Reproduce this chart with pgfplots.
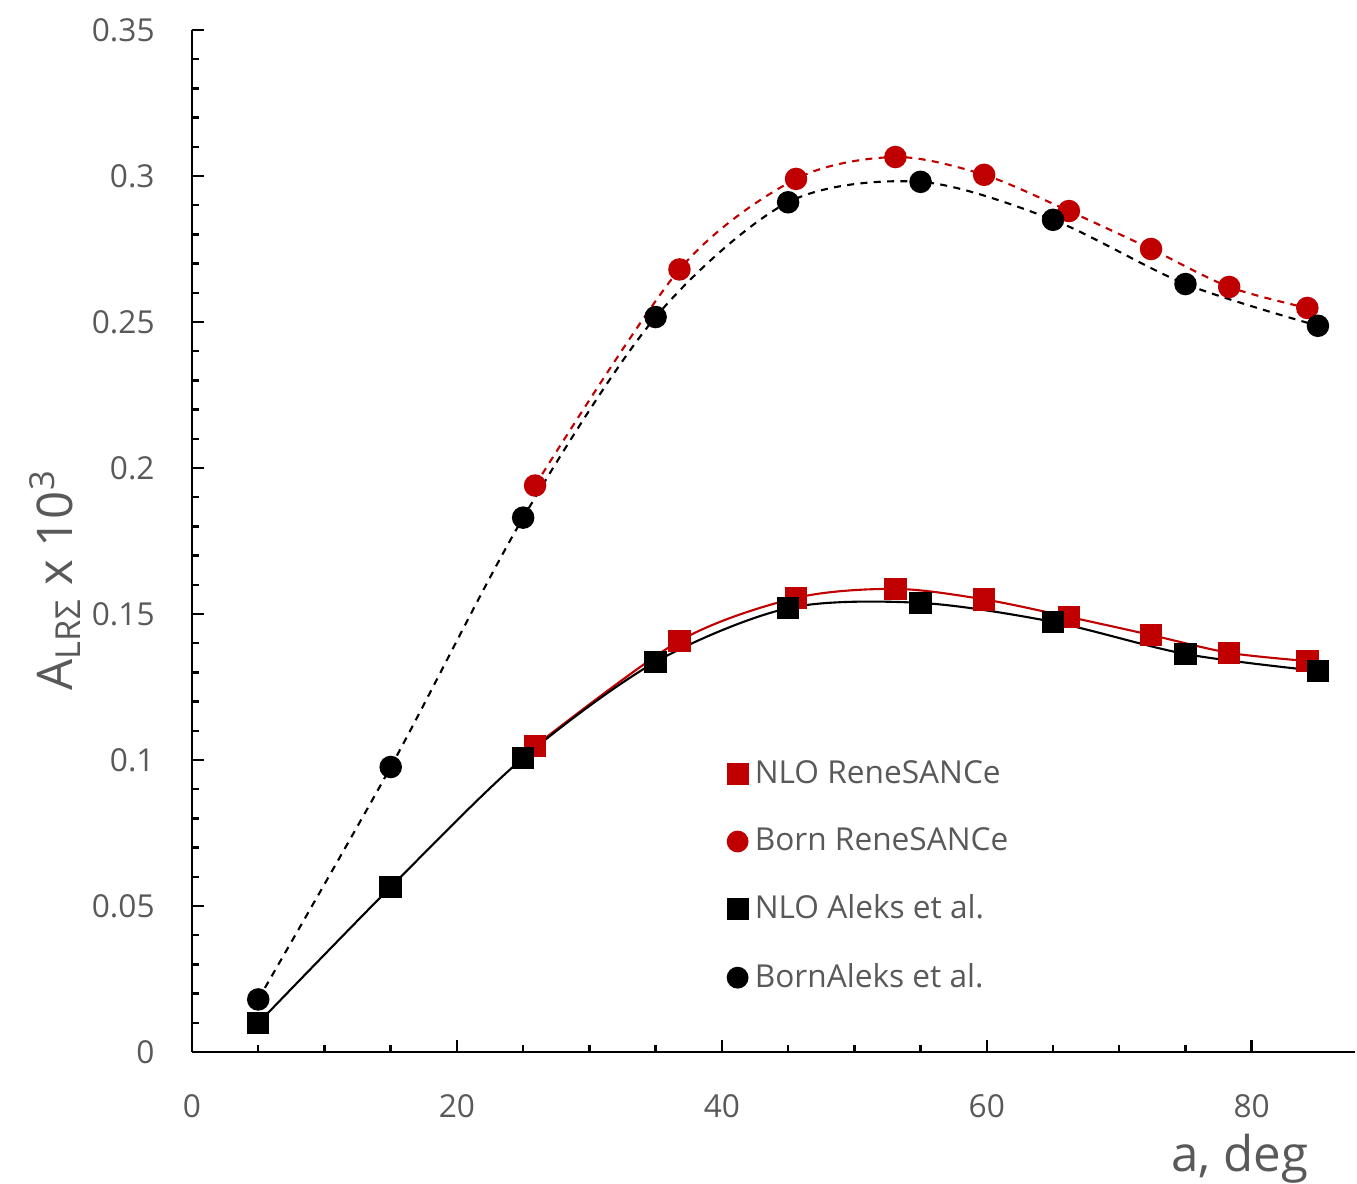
\documentclass[border=0pt]{standalone}
\usepackage{fontspec}
\setmainfont{Open Sans}
\usepackage{pgfplots}
\pgfplotsset{compat=1.18}
\definecolor{dred}{RGB}{192,0,0}
\definecolor{txt}{RGB}{89,89,89}

\begin{document}
\begin{tikzpicture}
\begin{axis}[
    scale only axis,
    width=11.63cm, height=10.22cm,
    xmin=0, xmax=87.8, ymin=0, ymax=0.35,
    axis x line=bottom, axis y line=left,
    axis line style={-, line width=0.85pt},
    tick align=inside,
    major tick length=0.12cm, minor tick length=0.07cm,
    tick style={black, line width=0.7pt},
    xtick={0,20,40,60,80}, minor x tick num=3,
    ytick={0,0.05,...,0.35}, minor y tick num=4,
    scaled y ticks=false,
    /pgf/number format/assume math mode=true,
    yticklabel style={/pgf/number format/fixed, /pgf/number format/precision=2, xshift=-0.25cm},
    xticklabel style={yshift=-0.3cm},
    ticklabel style={font=\fontsize{9}{11}\selectfont, text=txt},
    xlabel={a, deg},
    xlabel style={at={(rel axis cs:0.901,0)}, anchor=base, yshift=-1.2cm, font=\fontsize{14}{16}\selectfont, text=txt},
    ylabel={A\textsubscript{LRΣ} x 10\textsuperscript{3}},
    ylabel style={at={([xshift=-1.37cm]rel axis cs:0,0.462)}, anchor=center, font=\fontsize{14}{16}\selectfont, text=txt},
    legend style={draw=none, fill=none, at={(rel axis cs:0.4507,0.30)}, anchor=north west,
        font=\fontsize{9}{11}\selectfont, text=txt, row sep=0.25cm},
    legend cell align=left,
    legend image code/.code={\draw[#1] plot coordinates {(0.1cm,0cm)};},
]
% Born ReneSANCe
\addplot[dred, line width=0.6pt, dash pattern=on 2pt off 1.8pt, smooth, mark=*, mark size=2.9pt,
    mark options={solid}, forget plot] coordinates {
(25.9,0.194)(36.8,0.268)(45.6,0.299)(53.1,0.3065)(59.8,0.3004)(66.2,0.288)(72.4,0.275)(78.3,0.262)(84.2,0.2548)};
% NLO ReneSANCe
\addplot[dred, line width=0.6pt, smooth, mark=square*, mark size=2.9pt, forget plot] coordinates {
(25.9,0.1048)(36.8,0.1408)(45.6,0.1555)(53.1,0.1586)(59.8,0.155)(66.2,0.149)(72.4,0.1428)(78.3,0.1367)(84.2,0.1339)};
% Born Aleks
\addplot[black, line width=0.6pt, dash pattern=on 2pt off 1.8pt, smooth, mark=*, mark size=2.9pt,
    mark options={solid}, forget plot] coordinates {
(5,0.018)(15,0.0976)(25,0.183)(35,0.2517)(45,0.291)(55,0.298)(65,0.285)(75,0.263)(85,0.2487)};
% NLO Aleks
\addplot[black, line width=0.6pt, smooth, mark=square*, mark size=2.9pt, forget plot] coordinates {
(5,0.0099)(15,0.0565)(25,0.1007)(35,0.1336)(45,0.152)(55,0.1538)(65,0.1473)(75,0.1363)(85,0.1305)};

\addlegendimage{only marks, mark=square*, mark size=2.9pt, dred}
\addlegendentry{NLO ReneSANCe}
\addlegendimage{only marks, mark=*, mark size=2.9pt, dred}
\addlegendentry{Born ReneSANCe}
\addlegendimage{only marks, mark=square*, mark size=2.9pt, black}
\addlegendentry{NLO Aleks et al.}
\addlegendimage{only marks, mark=*, mark size=2.9pt, black}
\addlegendentry{BornAleks et al.}
\end{axis}
\pgfresetboundingbox
\path[use as bounding box] (-1.92,-1.32) rectangle (11.65,10.52);
\end{tikzpicture}
\end{document}
